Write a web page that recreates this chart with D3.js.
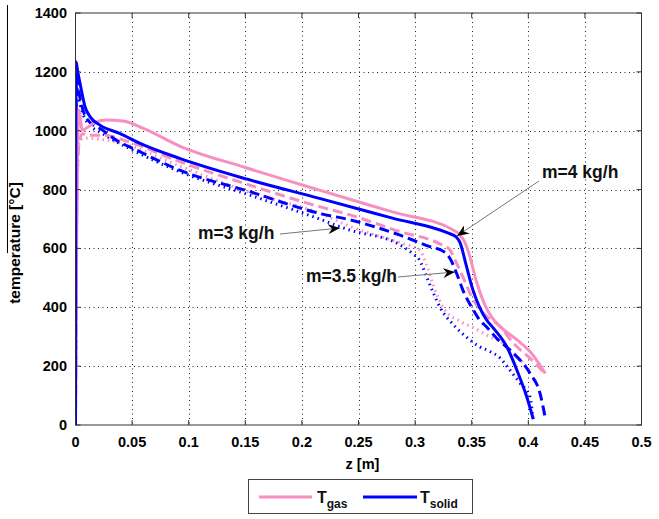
<!DOCTYPE html>
<html>
<head>
<meta charset="utf-8">
<script src="https://cdn.jsdelivr.net/npm/d3@7"></script>
<style>
  html, body { margin: 0; padding: 0; background: #fff; }
  svg { display: block; font-family: "Liberation Sans", Arial, sans-serif; }
</style>
</head>
<body>
<svg id="chart" width="659" height="519"></svg>
<script>
// Axis ticks
const zTicks = [0, 0.05, 0.1, 0.15, 0.2, 0.25, 0.3, 0.35, 0.4, 0.45, 0.5];
const zTickLabels = ["0", "0.05", "0.1", "0.15", "0.2", "0.25", "0.3", "0.35", "0.4", "0.45", "0.5"];
const tTicks = [0, 200, 400, 600, 800, 1000, 1200, 1400];

// Temperature profiles along the bed, [z (m), T (°C)]
// m = 4 kg/h
const gas4 = [[0,0],[0.001,600],[0.003,1070],[0.006,1002],[0.01,1010],[0.016,1025],[0.027,1036],[0.042,1033],
  [0.06,1008],[0.092,948],[0.15,875],[0.2155,798],[0.28,724],[0.334,662],[0.339,648],[0.343,628],[0.347,590],
  [0.354,490],[0.362,405],[0.368,365],[0.375,335],[0.393,280],[0.404,238],[0.415,175]];
const solid4 = [[0,0],[0.0005,1234],[0.002,1200],[0.004,1161],[0.0084,1082],[0.0128,1048],[0.0216,1019],
  [0.039,991],[0.057,957],[0.092,906],[0.15,837],[0.2155,770],[0.28,703],[0.33,651],[0.336,640],[0.3397,620],
  [0.345,545],[0.351,460],[0.357,400],[0.3635,355],[0.369,330],[0.381,266],[0.391,176],[0.3986,96],[0.4044,20]];
// m = 3.5 kg/h
const gas35 = [[0,0],[0.001,700],[0.003,950],[0.006,990],[0.012,985],[0.025,985],[0.045,965],[0.092,895],
  [0.154,815],[0.2155,742],[0.2425,714],[0.2867,657],[0.321,617],[0.3308,595],[0.3367,549],[0.3426,500],
  [0.3514,425],[0.363,370],[0.375,335],[0.3868,278],[0.4015,227],[0.4133,181]];
const solid35 = [[0,0],[0.0008,1180],[0.004,1110],[0.01,1040],[0.024,1002],[0.036,968],[0.054,934],[0.092,866],
  [0.154,793],[0.2155,719],[0.2425,697],[0.2867,645],[0.313,606],[0.325,590],[0.331,565],[0.3367,515],
  [0.3426,455],[0.3514,391],[0.357,357],[0.363,334],[0.372,295],[0.3868,244],[0.4015,176],[0.4103,108],[0.4148,28]];
// m = 3 kg/h
const gas3 = [[0,0],[0.001,650],[0.003,960],[0.008,975],[0.02,972],[0.04,958],[0.092,880],[0.154,790],
  [0.2155,720],[0.2425,675],[0.2867,620],[0.298,606],[0.304,595],[0.31,545],[0.316,476],[0.325,398],
  [0.3397,352],[0.352,330],[0.366,300],[0.375,285],[0.3838,255],[0.3956,210],[0.403,176]];
const solid3 = [[0,0],[0.0008,1150],[0.004,1090],[0.01,1030],[0.024,990],[0.05,935],[0.092,861],[0.154,781],
  [0.2155,700],[0.24,665],[0.2867,612],[0.298,582],[0.304,560],[0.31,505],[0.316,450],[0.322,400],
  [0.334,340],[0.345,300],[0.357,266],[0.366,250],[0.375,228],[0.381,200],[0.3927,142],[0.4015,96],[0.404,23]];

const pink = "#f78fc0", blue = "#0000ff";
const series = [
  { data: gas3,    color: pink, dash: "1.5,4" },
  { data: solid3,  color: blue, dash: "1.5,4" },
  { data: gas35,   color: pink, dash: "10,5" },
  { data: solid35, color: blue, dash: "10,5" },
  { data: gas4,    color: pink, dash: null },
  { data: solid4,  color: blue, dash: null }
];

const svg = d3.select("#chart");
const L = 75.5, R = 641.5, T = 13, B = 425;
const x = d3.scaleLinear().domain([0, 0.5]).range([L, R]);
const y = d3.scaleLinear().domain([0, 1400]).range([B, T]);

// stray rule at the far left
svg.append("line").attr("x1", 7.5).attr("x2", 7.5).attr("y1", 5).attr("y2", 253)
  .attr("stroke", "#000").attr("stroke-width", 1);

// dotted grid
const grid = svg.append("g").attr("stroke", "#222").attr("stroke-width", 1).attr("stroke-dasharray", "1,3.5");
grid.selectAll(".gx").data(zTicks.slice(1, -1)).join("line")
  .attr("x1", d => Math.round(x(d)) + 0.5).attr("x2", d => Math.round(x(d)) + 0.5)
  .attr("y1", T).attr("y2", B);
grid.selectAll(".gy").data(tTicks.slice(1, -1)).join("line")
  .attr("y1", d => Math.round(y(d)) + 0.5).attr("y2", d => Math.round(y(d)) + 0.5)
  .attr("x1", L).attr("x2", R);

// curves
svg.append("clipPath").attr("id", "plotclip").append("rect")
  .attr("x", L).attr("y", T - 2).attr("width", R - L).attr("height", B - T + 2);
const line = d3.line().x(d => x(d[0])).y(d => y(d[1])).curve(d3.curveMonotoneX);
svg.append("g").attr("clip-path", "url(#plotclip)")
  .selectAll("path").data(series).join("path")
  .attr("d", d => line(d.data))
  .attr("fill", "none")
  .attr("stroke", d => d.color)
  .attr("stroke-width", 3)
  .attr("stroke-linejoin", "round")
  .attr("stroke-dasharray", d => d.dash);

// axes box with inward ticks
const frame = svg.append("g").attr("stroke", "#333").attr("stroke-width", 1);
frame.append("rect").attr("x", L).attr("y", T).attr("width", R - L).attr("height", B - T).attr("fill", "none");
const tl = 5;
frame.selectAll(".tb").data(zTicks).join("line")
  .attr("x1", d => x(d)).attr("x2", d => x(d)).attr("y1", B).attr("y2", B - tl);
frame.selectAll(".tt").data(zTicks).join("line")
  .attr("x1", d => x(d)).attr("x2", d => x(d)).attr("y1", T).attr("y2", T + tl);
frame.selectAll(".tlft").data(tTicks).join("line")
  .attr("y1", d => y(d)).attr("y2", d => y(d)).attr("x1", L).attr("x2", L + tl);
frame.selectAll(".trt").data(tTicks).join("line")
  .attr("y1", d => y(d)).attr("y2", d => y(d)).attr("x1", R).attr("x2", R - tl);

// tick labels
svg.append("g").selectAll("text").data(zTicks).join("text")
  .attr("x", d => x(d)).attr("y", 447)
  .attr("text-anchor", "middle").attr("font-size", 14.5).attr("font-weight", "bold")
  .text((d, i) => zTickLabels[i]);
svg.append("g").selectAll("text").data(tTicks).join("text")
  .attr("x", 67).attr("y", d => y(d) + 5)
  .attr("text-anchor", "end").attr("font-size", 14.5).attr("font-weight", "bold")
  .text(d => d);

// axis titles
svg.append("text").attr("x", x(0.25) + 4).attr("y", 469)
  .attr("text-anchor", "middle").attr("font-size", 14.5).attr("font-weight", "bold").text("z [m]");
svg.append("text").attr("transform", "translate(20,243) rotate(-90)")
  .attr("text-anchor", "middle").attr("font-size", 15.5).attr("font-weight", "bold").text("temperature [°C]");

// annotations
const defs = svg.append("defs");
defs.append("marker").attr("id", "ah").attr("viewBox", "0 0 12 10")
  .attr("refX", 12).attr("refY", 5).attr("markerWidth", 12).attr("markerHeight", 10)
  .attr("markerUnits", "userSpaceOnUse").attr("orient", "auto")
  .append("path").attr("d", "M0,0 L12,5 L0,10 L4,5 Z").attr("fill", "#000");

const notes = [
  { text: "m=4 kg/h",   tx: 542, ty: 178, from: [539, 181], to: [457, 236] },
  { text: "m=3 kg/h",   tx: 198, ty: 239, from: [280, 234], to: [340, 228] },
  { text: "m=3.5 kg/h", tx: 306, ty: 282, from: [398, 277], to: [455, 272] }
];
const ng = svg.append("g");
ng.selectAll("line").data(notes).join("line")
  .attr("x1", d => d.from[0]).attr("y1", d => d.from[1])
  .attr("x2", d => d.to[0]).attr("y2", d => d.to[1])
  .attr("stroke", "#777").attr("stroke-width", 1).attr("marker-end", "url(#ah)");
ng.selectAll("text").data(notes).join("text")
  .attr("x", d => d.tx).attr("y", d => d.ty)
  .attr("font-size", 17.5).attr("font-weight", "bold").attr("fill", "#111")
  .text(d => d.text);

// legend
const lg = svg.append("g");
lg.append("rect").attr("x", 248.5).attr("y", 479.5).attr("width", 224).attr("height", 34)
  .attr("fill", "#fff").attr("stroke", "#444").attr("stroke-width", 1);
const legendItems = [
  { color: pink, x1: 259, x2: 312, tx: 317, sub: "gas" },
  { color: blue, x1: 363, x2: 417, tx: 420, sub: "solid" }
];
legendItems.forEach(it => {
  lg.append("line").attr("x1", it.x1).attr("x2", it.x2).attr("y1", 497).attr("y2", 497)
    .attr("stroke", it.color).attr("stroke-width", 3);
  const t = lg.append("text").attr("x", it.tx).attr("y", 503)
    .attr("font-size", 16).attr("font-weight", "bold").attr("fill", "#111");
  t.append("tspan").text("T");
  t.append("tspan").attr("dy", 5).attr("font-size", 12).text(it.sub);
});
</script>
</body>
</html>
